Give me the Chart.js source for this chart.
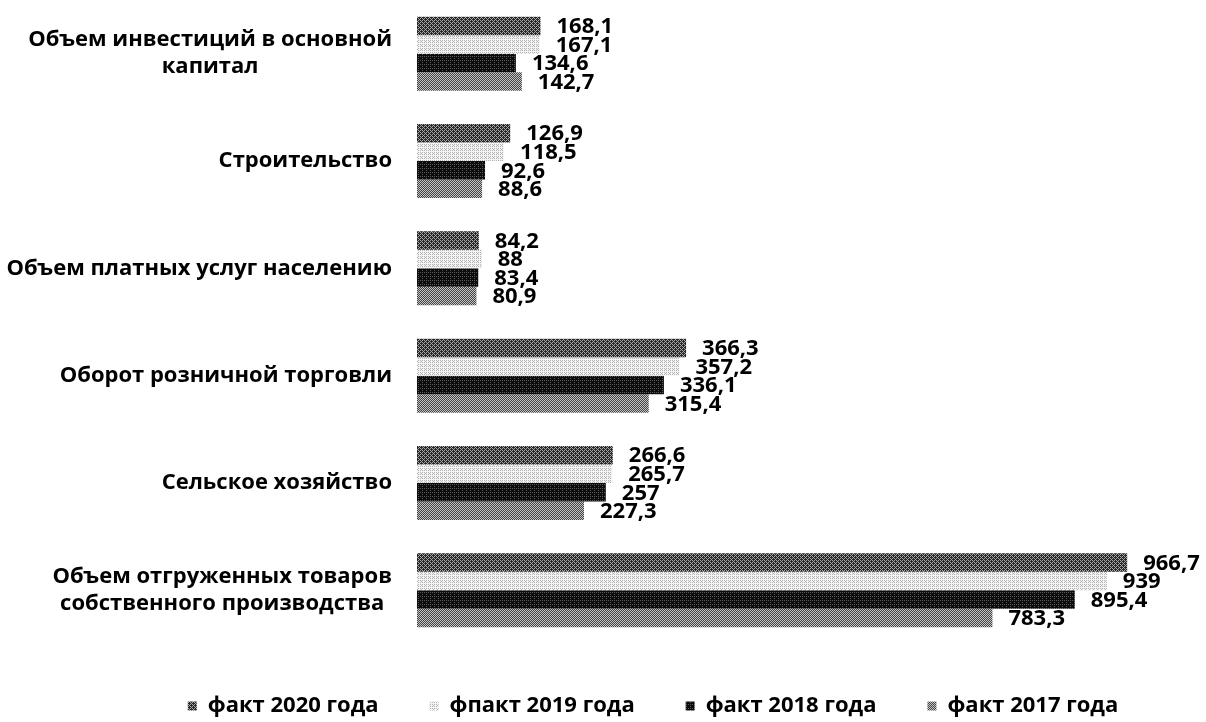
<!DOCTYPE html>
<html>
<head>
<meta charset="utf-8">
<script src="https://cdn.jsdelivr.net/npm/chart.js@4.4.1/dist/chart.umd.min.js"></script>
<style>
html, body { margin: 0; padding: 0; background: #fff; }
#wrap { width: 1206px; height: 722px; }
</style>
</head>
<body>
<div id="wrap"><canvas id="chart"></canvas></div>
<script>
// categories, top to bottom
const categories = [
    ["Объем инвестиций в основной", "капитал"],
    "Строительство",
    "Объем платных услуг населению",
    "Оборот розничной торговли",
    "Сельское хозяйство",
    ["Объем отгруженных товаров", "собственного производства"]
]
const series_names = ["факт 2020 года", "фпакт 2019 года", "факт 2018 года", "факт 2017 года"]
const fact_2020 = [168.1, 126.9, 84.2, 366.3, 266.6, 966.7]
const fact_2019 = [167.1, 118.5, 88, 357.2, 265.7, 939]
const fact_2018 = [134.6, 92.6, 83.4, 336.1, 257, 895.4]
const fact_2017 = [142.7, 88.6, 80.9, 315.4, 227.3, 783.3]

const FONT = "'Open Sans', 'DejaVu Sans', sans-serif"

// ordered dither, to look a bit like the scanned fill
const bayer = [
    [0, 8, 2, 10],
    [12, 4, 14, 6],
    [3, 11, 1, 9],
    [15, 7, 13, 5]
]
const make_pattern = (dark, light, level)=>{
    const c = document.createElement("canvas")
    c.width = 4
    c.height = 4
    const g = c.getContext("2d")
    for(let y = 0; y < 4; y++){
        for(let x = 0; x < 4; x++){
            g.fillStyle = bayer[y][x] < level ? light : dark
            g.fillRect(x, y, 1, 1)
        }
    }
    return g.createPattern(c, "repeat")
}

const fills = [
    make_pattern("#262626", "#a8a8a8", 6),
    make_pattern("#f4f4f4", "#b4b4b4", 5),
    make_pattern("#0c0c0c", "#5a5a5a", 3),
    make_pattern("#444444", "#c4c4c4", 8)
]
const all_values = [fact_2020, fact_2019, fact_2018, fact_2017]

// value labels at the end of each bar
const bar_labels = {
    id: "bar_labels",
    afterDatasetsDraw(chart){
        const ctx = chart.ctx
        ctx.save()
        ctx.font = "bold 22px " + FONT
        ctx.fillStyle = "#000"
        ctx.textAlign = "left"
        ctx.textBaseline = "middle"
        chart.data.datasets.forEach((ds, i)=>{
            chart.getDatasetMeta(i).data.forEach((bar, j)=>{
                ctx.fillText(String(ds.data[j]).replace(".", ","), bar.x + 16, bar.y + 1)
            })
        })
        ctx.restore()
    }
}

// category names: right aligned block, lines centred inside it
const cat_labels = {
    id: "cat_labels",
    afterDraw(chart){
        const ctx = chart.ctx
        const y = chart.scales.y
        const right = 392
        const line_h = 27
        ctx.save()
        ctx.font = "bold 22px " + FONT
        ctx.fillStyle = "#000"
        ctx.textAlign = "center"
        ctx.textBaseline = "middle"
        categories.forEach((c, i)=>{
            const lines = Array.isArray(c) ? c : [c]
            const cy = y.getPixelForTick(i)
            const maxw = Math.max(...lines.map(l => ctx.measureText(l).width))
            const cx = right - maxw / 2
            lines.forEach((l, k)=>{
                ctx.fillText(l, cx, cy + (k - (lines.length - 1) / 2) * line_h)
            })
        })
        ctx.restore()
    }
}

// fixed legend height so the bars end where they do in the picture
const legend_height = {
    id: "legend_height",
    beforeInit(chart){
        const fit = chart.legend.fit
        chart.legend.fit = function(){
            fit.bind(chart.legend)()
            this.height = 78
        }
    }
}

var ctx = document.getElementById("chart").getContext("2d")
var myChart = new Chart(ctx, {
    type: "bar",
    data: {
        labels: categories,
        datasets: series_names.map((name, i)=>({
            label: name,
            data: all_values[i],
            backgroundColor: fills[i],
            borderWidth: 0,
            categoryPercentage: 0.69,
            barPercentage: 1
        }))
    },
    options: {
        indexAxis: "y",
        responsive: true,
        maintainAspectRatio: false,
        animation: false,
        layout: { padding: { top: -3, right: 0, bottom: 0, left: 100 } },
        scales: {
            x: {
                display: false,
                min: 0,
                max: 1074
            },
            y: {
                grid: { display: false },
                border: { display: false },
                ticks: { display: false },
                afterFit: (scale)=>{ scale.width = 317 }
            }
        },
        plugins: {
            legend: {
                position: "bottom",
                labels: {
                    boxWidth: 9,
                    boxHeight: 9,
                    padding: 51,
                    color: "#000",
                    font: { family: FONT, size: 22, weight: "bold" }
                }
            },
            tooltip: { enabled: false }
        }
    },
    plugins: [bar_labels, cat_labels, legend_height]
})
</script>
</body>
</html>
